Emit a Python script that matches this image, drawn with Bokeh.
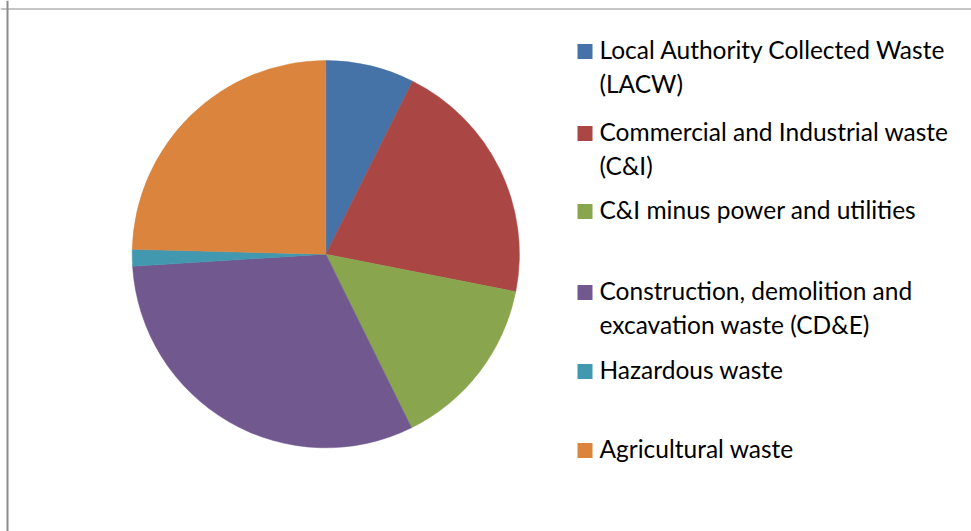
import math
from bokeh.plotting import figure
from bokeh.models import Range1d, Span, ColumnDataSource
from bokeh.core.properties import value
from bokeh.embed import file_html
from bokeh.resources import INLINE

# ---- data (share of total waste, %) ----
categories = [
    "Local Authority Collected Waste (LACW)",
    "Commercial and Industrial waste (C&I)",
    "C&I minus power and utilities",
    "Construction, demolition and excavation waste (CD&E)",
    "Hazardous waste",
    "Agricultural waste",
]
shares = [7.4, 20.7, 14.6, 31.3, 1.4, 24.6]
colors = ["#4572A7", "#AA4643", "#89A54E", "#71588F", "#4198AF", "#DB843D"]
legend_lines = [
    ["Local Authority Collected Waste", "(LACW)"],
    ["Commercial and Industrial waste", "(C&I)"],
    ["C&I minus power and utilities"],
    ["Construction, demolition and", "excavation waste (CD&E)"],
    ["Hazardous waste"],
    ["Agricultural waste"],
]

W, H = 971, 531
p = figure(width=W, height=H, output_backend="svg", toolbar_location=None,
           x_range=Range1d(0, W), y_range=Range1d(0, H), min_border=0)
p.axis.visible = False
p.grid.visible = False
p.outline_line_color = None
p.background_fill_color = "white"

def sx(px):
    return px

def sy(py):
    return H - py

# pie
total = sum(shares)
starts, ends = [], []
acc = 0.0
for s in shares:
    a0 = math.pi / 2 - 2 * math.pi * acc / total
    acc += s
    a1 = math.pi / 2 - 2 * math.pi * acc / total
    starts.append(a0)
    ends.append(a1)

src = ColumnDataSource(dict(start=starts, end=ends, color=colors, cat=categories))
p.wedge(x=sx(325.3), y=sy(253.7), radius=193.6, start_angle="start", end_angle="end",
        direction="clock", fill_color="color", line_color="color", line_width=0.5,
        source=src)

# legend
baselines = [58, 140, 218, 299, 378, 457]
line_gap = 34
for lines, col, base in zip(legend_lines, colors, baselines):
    p.rect(x=[sx(584.5)], y=[sy(base - 7)], width=15, height=15,
           fill_color=col, line_color=None)
    for i, t in enumerate(lines):
        p.text(x=[sx(599)], y=[sy(base - 9 + i * line_gap)], text=[t],
               text_font=value("Lato"), text_font_size="24.5px",
               text_color="#000000", text_baseline="alphabetic", text_align="left")

# chart frame (left and top edges)
p.add_layout(Span(location=7, dimension="height", line_color="#8c8c8c", line_width=2))
p.add_layout(Span(location=H - 8.5, dimension="width", line_color="#8c8c8c", line_width=1))

open("out.html", "w").write(file_html(p, INLINE))
